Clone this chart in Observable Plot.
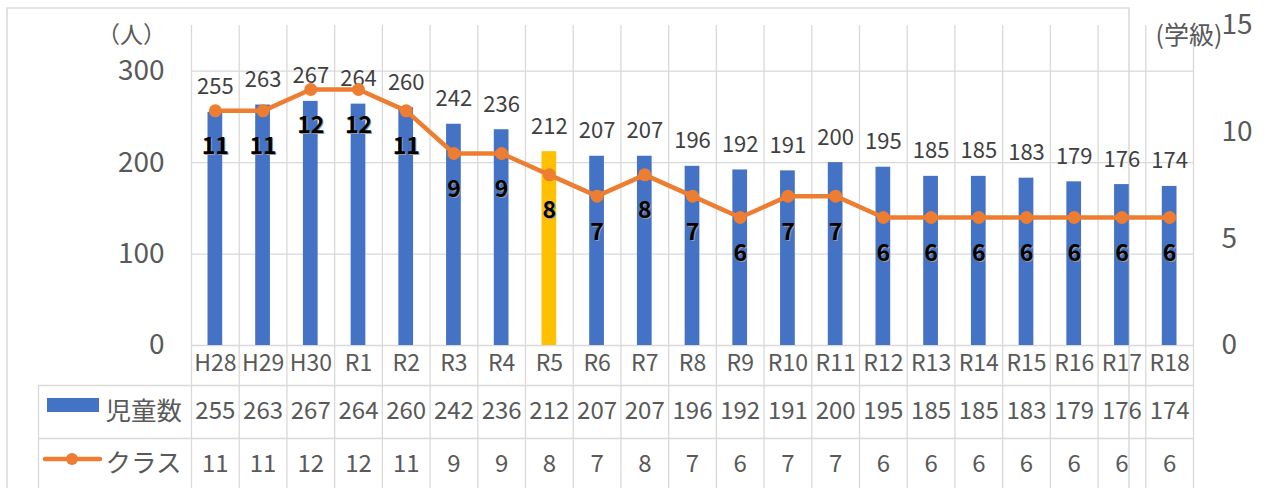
<!DOCTYPE html>
<html><head><meta charset="utf-8">
<script src="https://cdn.jsdelivr.net/npm/d3@7"></script>
<script src="https://cdn.jsdelivr.net/npm/@observablehq/plot@0.6"></script>
<style>body{margin:0;background:#fff;} svg{display:block;}</style>
</head><body><div id="chart"></div>
<script>
const categories = ["H28","H29","H30","R1","R2","R3","R4","R5","R6","R7","R8","R9","R10","R11","R12","R13","R14","R15","R16","R17","R18"];
const students = [255,263,267,264,260,242,236,212,207,207,196,192,191,200,195,185,185,183,179,176,174];
const classes = [11,11,12,12,11,9,9,8,7,8,7,6,7,7,6,6,6,6,6,6,6];
const highlight = "R5";
const leftTicks = [0,100,200,300];
const rightTicks = [0,5,10,15];
const seriesNames = ["児童数","クラス"];
const leftUnit = "（人）";
const rightUnit = "(学級)";
const yMax = 350, y2Max = 15;

const W = 1266, H = 488, mL = 191, mR = 73, mT = 25, mB = 143;
const step = (W - mL - mR) / categories.length;
const k = yMax / y2Max;
const rows = categories.map((c, i) => ({c, s: students[i], n: classes[i], ny: classes[i] * k}));
const grid = "#d9d9d9";
const font = "'Noto Sans CJK JP', 'Noto Sans', sans-serif";

const chart = Plot.plot({
  width: W, height: H, marginLeft: mL, marginRight: mR, marginTop: mT, marginBottom: mB,
  style: {fontFamily: font, background: "white", overflow: "visible"},
  x: {type: "band", domain: categories, padding: 0, round: false, axis: null},
  y: {domain: [0, yMax], axis: null},
  marks: [
    // outer border
    Plot.frame({stroke: grid, strokeWidth: 1.5, insetLeft: -(mL - 6.5), insetTop: -(mT - 7.5), insetRight: -(W - mR - 1257.5), insetBottom: -150}),
    // horizontal gridlines
    Plot.ruleY(leftTicks, {stroke: grid, strokeWidth: 1.3}),
    // vertical gridlines at band boundaries extending through table
    Plot.ruleX(categories, {stroke: grid, strokeWidth: 1.3, dx: -step / 2, insetBottom: -mB}),
    Plot.ruleX([categories[categories.length - 1]], {stroke: grid, strokeWidth: 1.3, dx: step / 2, insetBottom: -mB}),
    // table horizontal lines
    Plot.ruleY([0], {stroke: grid, strokeWidth: 1.3, dy: 40, insetLeft: -(mL - 38)}),
    Plot.ruleY([0], {stroke: grid, strokeWidth: 1.3, dy: 93, insetLeft: -(mL - 38)}),
    Plot.ruleX([categories[0]], {stroke: grid, strokeWidth: 1.3, dx: -step / 2 - (mL - 38), insetTop: (385 - mT), insetBottom: -mB}),
    // axes
    Plot.axisY(leftTicks, {anchor: "left", tickSize: 0, tickPadding: 27, fontSize: 28, fill: "#595959"}),
    Plot.axisY(rightTicks.map(v => v * k), {anchor: "right", tickSize: 0, tickPadding: 28, fontSize: 28, fill: "#595959", tickFormat: d => Math.round(d / k)}),
    Plot.text([leftUnit], {frameAnchor: "top-left", lineAnchor: "middle", dx: 131 - mL, dy: 35 - mT, fontSize: 23, fill: "#595959", textAnchor: "middle"}),
    Plot.text([rightUnit], {frameAnchor: "top-right", lineAnchor: "middle", dx: 1222 - (W - mR), dy: 35 - mT, fontSize: 25, fill: "#595959", textAnchor: "end"}),
    // bars
    Plot.barY(rows.filter(d => d.c !== highlight), {x: "c", y: "s", fill: "#4472C4", insetLeft: 16.5, insetRight: 16.5}),
    Plot.barY(rows.filter(d => d.c === highlight), {x: "c", y: "s", fill: "#FFC000", insetLeft: 16.5, insetRight: 16.5}),
    Plot.text(rows, {x: "c", y: "s", text: d => String(d.s), dy: -25, fontSize: 22, fill: "#404040"}),
    // line
    Plot.line(rows, {x: "c", y: "ny", stroke: "#ED7D31", strokeWidth: 4.5}),
    Plot.dot(rows, {x: "c", y: "ny", r: 6.5, fill: "#ED7D31", stroke: "none"}),
    Plot.text(rows, {x: "c", y: "ny", text: d => String(d.n), dy: 37, dx: 1, fontSize: 23, fontWeight: "bold", fill: "#9a9a9a"}),
    Plot.text(rows, {x: "c", y: "ny", text: d => String(d.n), dy: 36, fontSize: 23, fontWeight: "bold", fill: "#000"}),
    // table
    Plot.text(categories, {x: d => d, frameAnchor: "bottom", lineAnchor: "middle", dy: 18, fontSize: 23, fill: "#595959"}),
    Plot.text(rows, {x: "c", frameAnchor: "bottom", lineAnchor: "middle", text: d => String(d.s), dy: 66, fontSize: 24, fill: "#595959"}),
    Plot.text(rows, {x: "c", frameAnchor: "bottom", lineAnchor: "middle", text: d => String(d.n), dy: 119, fontSize: 24, fill: "#595959"}),
    Plot.text([seriesNames[0]], {frameAnchor: "bottom-left", lineAnchor: "middle", dx: 105 - mL, dy: 411 - (H - mB), fontSize: 25.5, fill: "#595959", textAnchor: "start"}),
    Plot.text([seriesNames[1]], {frameAnchor: "bottom-left", lineAnchor: "middle", dx: 105 - mL, dy: 463 - (H - mB), fontSize: 25.5, fill: "#595959", textAnchor: "start"})
  ]
});
document.getElementById("chart").appendChild(chart);

// legend swatches in the table
const svg = d3.select(chart);
svg.append("rect").attr("x", 47).attr("y", 398).attr("width", 52).attr("height", 14).attr("fill", "#4472C4");
svg.append("line").attr("x1", 45).attr("x2", 100).attr("y1", 459).attr("y2", 459).attr("stroke", "#ED7D31").attr("stroke-width", 4.5).attr("stroke-linecap", "round");
svg.append("circle").attr("cx", 72).attr("cy", 459).attr("r", 6).attr("fill", "#ED7D31");
</script>
</body></html>
